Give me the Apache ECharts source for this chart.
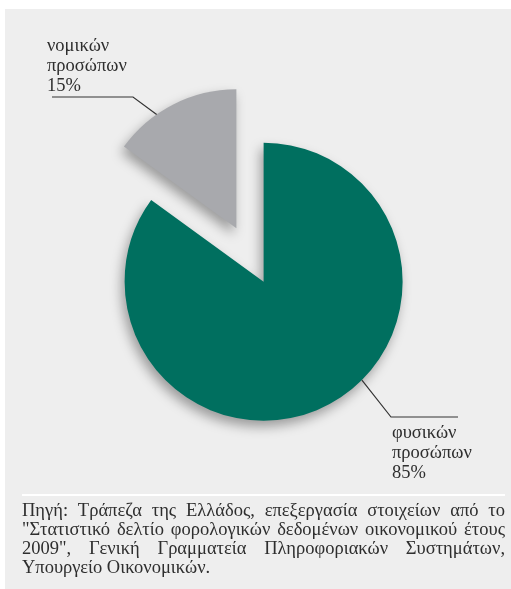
<!DOCTYPE html>
<html>
<head>
<meta charset="utf-8">
<script src="https://cdn.jsdelivr.net/npm/echarts@6/dist/echarts.min.js"></script>
<style>
  html, body { margin: 0; padding: 0; background: #ffffff; }
  #main { width: 511px; height: 589px; }
</style>
</head>
<body>
<div id="main"></div>
<script>
// Shares of income tax returns by type of taxpayer (%)
const categories = ['φυσικών προσώπων', 'νομικών προσώπων'];
const shares = [85, 15];

// Source note, one entry per printed line
const sourceLines = [
  'Πηγή: Τράπεζα της Ελλάδος, επεξεργασία στοιχείων από το',
  '"Στατιστικό δελτίο φορολογικών δεδομένων οικονομικού έτους',
  '2009", Γενική Γραμματεία Πληροφοριακών Συστημάτων,',
  'Υπουργείο Οικονομικών.'
];

// Layout and styling
const W = 511, H = 589;
const PIE_CX = 250, PIE_CY = 255, PIE_R = 139, EXPLODE = 30;
const SLICE_COLORS = ['#006f5f', '#a8a9ad'];
const SERIF = '"Liberation Serif", "DejaVu Serif", serif';
const TEXT_COLOR = '#2e2e2e';
const LABEL_FS = 18.5, LABEL_LH = 20;

// label placement per slice: anchor angle on the rim (degrees clockwise from top),
// elbow and end of the leader line, top-left corner of the text block
const labelPlacement = [
  { anchorDeg: 135, elbow: [391, 417], end: [458, 417], x: 392, y: 423 },
  { anchorDeg: 325, elbow: [133, 97], end: [52, 97], x: 47, y: 36 }
];

const total = shares.reduce((a, b) => a + b, 0);

// centre of an exploded slice
function sliceCentre(i) {
  let cum = 0;
  for (let j = 0; j < i; j++) cum += shares[j];
  const mid = (cum + shares[i] / 2) / total * Math.PI * 2;
  return [PIE_CX + Math.sin(mid) * EXPLODE, PIE_CY - Math.cos(mid) * EXPLODE];
}
function rimPoint(i, deg) {
  const c = sliceCentre(i);
  const a = deg * Math.PI / 180;
  return [c[0] + Math.sin(a) * PIE_R, c[1] - Math.cos(a) * PIE_R];
}

// slice labels with leader lines
const labelElements = [];
categories.forEach((name, i) => {
  const L = labelPlacement[i];
  labelElements.push({
    type: 'polyline', z: 5,
    shape: { points: [rimPoint(i, L.anchorDeg), L.elbow, L.end] },
    style: { stroke: '#333333', lineWidth: 1.2, fill: null }
  });
  labelElements.push({
    type: 'text', z: 5, x: L.x, y: L.y,
    style: {
      text: name.replace(' ', '\n') + '\n' + shares[i] + '%',
      font: LABEL_FS + 'px ' + SERIF,
      lineHeight: LABEL_LH,
      fill: TEXT_COLOR,
      textAlign: 'left',
      textVerticalAlign: 'top'
    }
  });
});

// justified source note built from words
const NOTE_FS = 18.5, NOTE_LEFT = 22, NOTE_RIGHT = 505, NOTE_Y0 = 511, NOTE_LH = 19;
const measureCtx = document.createElement('canvas').getContext('2d');
measureCtx.font = NOTE_FS + 'px ' + SERIF;
const noteElements = [];
sourceLines.forEach((line, li) => {
  const y = NOTE_Y0 + li * NOTE_LH;
  const last = li === sourceLines.length - 1;
  if (last) {
    noteElements.push({
      type: 'text', x: NOTE_LEFT, y: y,
      style: { text: line, font: NOTE_FS + 'px ' + SERIF, fill: TEXT_COLOR, textVerticalAlign: 'middle' }
    });
    return;
  }
  const words = line.split(' ');
  const widths = words.map(w => measureCtx.measureText(w).width);
  const sum = widths.reduce((a, b) => a + b, 0);
  const gap = (NOTE_RIGHT - NOTE_LEFT - sum) / (words.length - 1);
  let x = NOTE_LEFT;
  words.forEach((w, wi) => {
    noteElements.push({
      type: 'text', x: x, y: y,
      style: { text: w, font: NOTE_FS + 'px ' + SERIF, fill: TEXT_COLOR, textVerticalAlign: 'middle' }
    });
    x += widths[wi] + gap;
  });
});

const chart = echarts.init(document.getElementById('main'), null, { renderer: 'canvas' });

chart.setOption({
  animation: false,
  backgroundColor: '#ffffff',
  graphic: [
    { type: 'rect', z: -10, shape: { x: 5, y: 9, width: W - 5, height: H - 9 }, style: { fill: '#eeeeee' } },
    { type: 'line', z: -5, shape: { x1: 22, y1: 495, x2: 505, y2: 495 }, style: { stroke: '#ffffff', lineWidth: 2 } }
  ].concat(labelElements, noteElements),
  series: [{
    type: 'pie',
    center: [PIE_CX, PIE_CY],
    radius: [0, PIE_R],
    startAngle: 90,
    clockwise: true,
    selectedMode: 'multiple',
    selectedOffset: EXPLODE,
    emphasis: { disabled: true },
    itemStyle: {
      shadowBlur: 12,
      shadowColor: 'rgba(0,0,0,0.35)',
      shadowOffsetX: -3,
      shadowOffsetY: 6
    },
    label: { show: false },
    labelLine: { show: false },
    data: categories.map((name, i) => ({
      name: name,
      value: shares[i],
      selected: true,
      itemStyle: { color: SLICE_COLORS[i] }
    }))
  }]
});
</script>
</body>
</html>
